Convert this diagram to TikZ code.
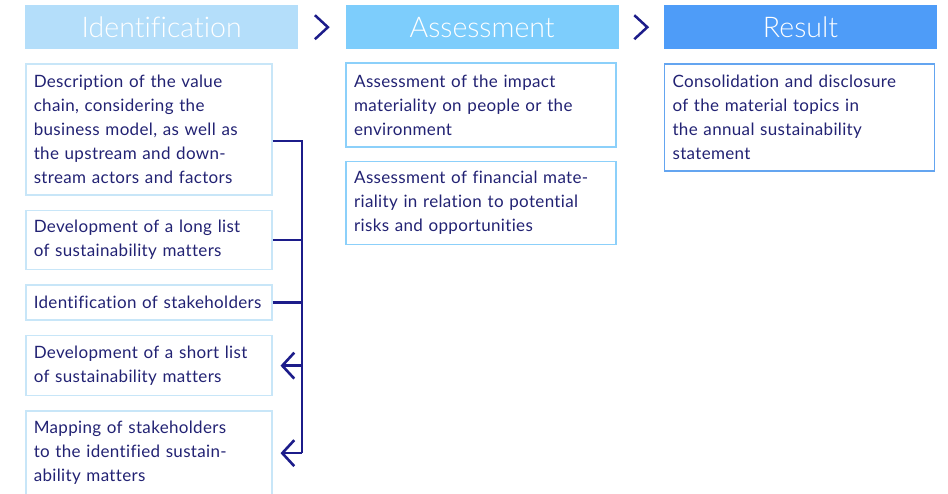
\documentclass[tikz,border=0pt]{standalone}
\usepackage{fontspec}
\setmainfont{Lato}[LetterSpace=2, Ligatures=CommonOff]
\newfontfamily\headfont{Lato Light}[Ligatures=CommonOff]
\usetikzlibrary{positioning,calc,arrows.meta}

\definecolor{navy}{RGB}{28,28,138}
\definecolor{inktext}{RGB}{34,34,115}
\definecolor{hdone}{RGB}{180,222,250}
\definecolor{hdtwo}{RGB}{125,205,252}
\definecolor{hdthree}{RGB}{78,156,248}
\definecolor{rimone}{RGB}{200,230,248}
\definecolor{rimtwo}{RGB}{140,208,250}
\definecolor{rimthree}{RGB}{100,165,240}

\tikzset{
  header/.style={fill=#1, text=white, minimum width=273pt, minimum height=44pt,
    inner sep=0pt, font=\headfont\fontsize{28.5}{30}\selectfont},
  item/.style={draw=#1, line width=1.5pt, text=inktext, align=left,
    inner xsep=8pt, inner ysep=6pt, font=\fontsize{17}{24}\selectfont},
  chev/.style={draw=navy, line width=2.5pt, line join=miter},
  brk/.style={draw=navy, line width=2.6pt},
  tip/.style={brk, -{Straight Barb[length=12pt,width=26pt]}}
}

\begin{document}
\begin{tikzpicture}[x=1pt, y=-1pt, node distance=14pt]
 \useasboundingbox (0,0) rectangle (948,493);

 \node[header=hdone, anchor=north west] (hdId) at (25,5) {Identification};
 \node[header=hdtwo, right=47pt of hdId] (hdAs) {Assessment};
 \node[header=hdthree, right=45pt of hdAs] (hdRe) {Result};

 \draw[chev] ($(hdId.east)!0.5!(hdAs.west)$) ++(-7,-12) -- ++(13,12) -- ++(-13,12);
 \draw[chev] ($(hdAs.east)!0.5!(hdRe.west)$) ++(-7,-12) -- ++(13,12) -- ++(-13,12);

 % identification
 \node[item=rimone, text width=230pt, minimum height=131pt,
   below right=14pt and 0pt of hdId.south west] (idA)
   {Description of the value\\chain, considering the\\business model, as well as\\the upstream and down-\\stream actors and factors};
 \node[item=rimone, text width=230pt, minimum height=59pt, below=of idA] (idB)
   {Development of a long list\\of sustainability matters};
 \node[item=rimone, text width=230pt, minimum height=35pt, below=of idB] (idC)
   {Identification of stakeholders};
 \node[item=rimone, text width=230pt, minimum height=60pt, below=of idC] (idD)
   {Development of a short list\\of sustainability matters};
 \node[item=rimone, text width=230pt, minimum height=84pt, below=of idD] (idE)
   {Mapping of stakeholders\\to the identified sustain-\\ability matters};

 % assessment
 \node[item=rimtwo, text width=254pt, minimum height=84pt,
   below right=13pt and 0pt of hdAs.south west] (asA)
   {Assessment of the impact\\materiality on people or the\\environment};
 \node[item=rimtwo, text width=254pt, minimum height=83pt, below=13pt of asA] (asB)
   {Assessment of financial mate-\\riality in relation to potential\\risks and opportunities};

 % result
 \node[item=rimthree, text width=254pt, minimum height=107pt,
   below right=14pt and 0pt of hdRe.south west] (reA)
   {Consolidation and disclosure\\of the material topics in\\the annual sustainability\\statement};

 \coordinate (bus) at (302,0);
 \draw[brk] ([yshift=-11.5pt]idA.east) -| (bus |- idE.east);
 \draw[brk] (idB.east) -- (bus |- idB.east);
 \draw[brk] (idC.east) -- (bus |- idC.east);
 \draw[tip] (bus |- idD.east) -- ([xshift=8pt]idD.east);
 \draw[tip] (bus |- idE.east) -- ([xshift=8pt]idE.east);
\end{tikzpicture}
\end{document}
